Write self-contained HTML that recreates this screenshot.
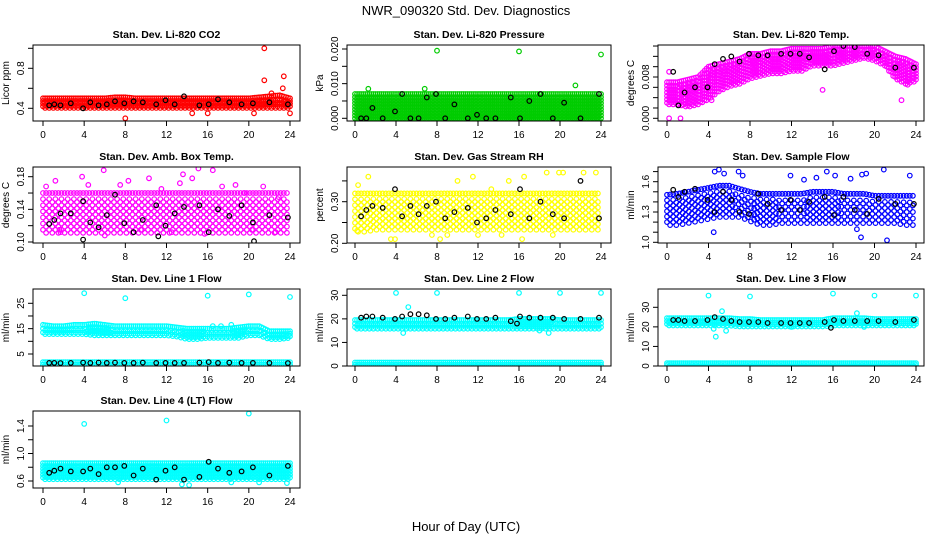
<!DOCTYPE html>
<html><head><meta charset="utf-8">
<style>
html,body{margin:0;padding:0;background:#fff;}
svg{display:block;font-family:"Liberation Sans",Arial,sans-serif;}
</style></head>
<body>
<svg id="chart" width="936" height="540" viewBox="0 0 936 540">
<text x="466" y="15" text-anchor="middle" font-size="13">NWR_090320  Std. Dev. Diagnostics</text>
<text x="466" y="531" text-anchor="middle" font-size="13">Hour of Day (UTC)</text>
</svg>
<script>
// ---- data ----
const xTicks = [0,4,8,12,16,20,24];
const panelTitles = ["Stan. Dev. Li-820 CO2","Stan. Dev. Li-820 Pressure","Stan. Dev. Li-820 Temp.","Stan. Dev. Amb. Box Temp.","Stan. Dev. Gas Stream RH","Stan. Dev. Sample Flow","Stan. Dev. Line 1 Flow","Stan. Dev. Line 2 Flow","Stan. Dev. Line 3 Flow","Stan. Dev. Line 4 (LT) Flow"];
const yTitles = ["Licor ppm","kPa","degrees C","degrees C","percent","ml/min","ml/min","ml/min","ml/min","ml/min"];
const seriesColors = ["#ff0000","#00cc00","#ff00ff","#ff00ff","#ffff00","#0000ff","#00ffff","#00ffff","#00ffff","#00ffff"];
const yTickVals = [[0.4,0.6,0.8,1.0],[0,0.005,0.01,0.015,0.02],[0,0.002,0.004,0.006,0.008,0.01,0.012,0.014],[0.10,0.12,0.14,0.16,0.18],[0.20,0.25,0.30,0.35],[1.0,1.1,1.2,1.3,1.4,1.5,1.6,1.7],[5,10,15,20,25],[0,10,20,30],[0,10,20,30],[0.6,0.8,1.0,1.2,1.4]];
const yTickLabels = [["0.4","","0.8",""],["0.000","","0.010","","0.020"],["0.000","","","","0.008","","",""],["0.10","","0.14","","0.18"],["0.20","","0.30",""],["1.0","","","1.3","","","1.6",""],["5","","15","","25"],["0","10","20","30"],["0","10","20","30"],["0.6","","1.0","","1.4"]];
const yRanges = [[0.4,0.8],[0,0.02],[0,0.008],[0.10,0.18],[0.20,0.30],[1.0,1.6],[5,25],[0,30],[0,30],[0.6,1.4]];
const blackHours = [0.6,1.1,1.7,2.7,3.9,4.6,5.4,6.2,7.0,7.9,8.8,9.7,11.0,11.9,12.8,13.7,15.2,16.1,17.0,18.1,19.3,20.4,22.0,23.8];
const bandLo = [
 [0.42,0.42,0.42,0.42,0.42,0.42,0.42,0.42,0.42,0.42,0.42,0.42,0.42,0.42,0.42,0.42,0.42,0.42,0.42,0.42,0.42,0.42,0.42,0.42,0.42],
 [0,0,0,0,0,0,0,0,0,0,0,0,0,0,0,0,0,0,0,0,0,0,0,0,0],
 [0.003,0.003,0.0025,0.003,0.004,0.0055,0.0065,0.007,0.008,0.0085,0.009,0.009,0.0095,0.0095,0.0105,0.0105,0.0105,0.011,0.0115,0.012,0.0115,0.0105,0.008,0.007,0.0075],
 [0.115,0.115,0.115,0.115,0.115,0.115,0.115,0.115,0.115,0.115,0.115,0.115,0.115,0.115,0.115,0.115,0.115,0.115,0.115,0.115,0.115,0.115,0.115,0.115,0.115],
 [0.235,0.235,0.24,0.24,0.24,0.24,0.24,0.24,0.24,0.24,0.24,0.24,0.24,0.24,0.24,0.24,0.24,0.24,0.24,0.24,0.24,0.24,0.24,0.24,0.24],
 [1.2,1.2,1.22,1.24,1.26,1.28,1.28,1.28,1.24,1.2,1.2,1.22,1.22,1.22,1.22,1.22,1.22,1.22,1.22,1.22,1.22,1.22,1.22,1.2,1.2],
 [13.5,13.5,13.5,13.5,13.5,13,13,13,13,13,13,13,13,12.5,11.5,11.5,12,12,12,12,13,13,11.5,11.5,12],
 [16.5,16.5,16.5,16.5,16.5,16.5,16.5,16.5,16.5,16.5,16.5,16.5,16.5,16.5,16.5,16.5,16.5,16.5,16.5,16.5,16.5,16.5,16.5,16.5,16.5],
 [21.5,21.5,21.5,21.5,21.5,21.5,21.5,21,21,21,21,21,21,21,21,21,21.5,21.5,21.5,21.5,21.5,21.5,21.5,21.5,21.5],
 [0.65,0.65,0.65,0.65,0.65,0.65,0.65,0.65,0.65,0.65,0.65,0.65,0.65,0.65,0.65,0.65,0.65,0.65,0.65,0.65,0.65,0.65,0.65,0.65,0.65]];
const bandHi = [
 [0.50,0.50,0.50,0.50,0.50,0.50,0.50,0.51,0.51,0.50,0.50,0.50,0.50,0.50,0.50,0.50,0.50,0.50,0.50,0.50,0.50,0.51,0.52,0.53,0.50],
 [0.007,0.007,0.007,0.007,0.007,0.007,0.007,0.007,0.007,0.007,0.007,0.007,0.007,0.007,0.007,0.007,0.007,0.007,0.007,0.007,0.007,0.007,0.007,0.007,0.007],
 [0.007,0.007,0.0075,0.008,0.01,0.0105,0.011,0.0115,0.0125,0.0125,0.013,0.013,0.0135,0.0135,0.0135,0.0135,0.014,0.014,0.014,0.014,0.014,0.013,0.012,0.0115,0.0105],
 [0.16,0.16,0.16,0.16,0.16,0.16,0.16,0.16,0.16,0.16,0.16,0.16,0.16,0.16,0.16,0.16,0.16,0.16,0.16,0.16,0.16,0.16,0.16,0.16,0.16],
 [0.32,0.32,0.32,0.32,0.32,0.32,0.32,0.32,0.32,0.32,0.32,0.32,0.32,0.32,0.32,0.32,0.32,0.32,0.32,0.32,0.32,0.32,0.32,0.32,0.32],
 [1.47,1.48,1.5,1.52,1.54,1.56,1.56,1.53,1.5,1.48,1.48,1.48,1.48,1.48,1.5,1.5,1.5,1.48,1.48,1.48,1.46,1.46,1.46,1.46,1.46],
 [16.5,16,16,16.5,16.5,17,16.5,16,16,16,16,16,16,15.5,15,15,15,15,15,15.5,16,16,14,14,14],
 [19.5,19.5,19.5,19.5,19.5,19.5,19.5,19.5,19.5,19.5,19.5,19.5,19.5,19.5,19.5,19.5,20,20,20,20,19.5,19.5,19.5,19.5,19.5],
 [24.5,24.5,24.5,24.5,24.5,24.5,24.5,24,24,23.5,23.5,23.5,23.5,23.5,23.5,23.5,24.5,24.5,24.5,24.5,24,24,24,24,24],
 [0.86,0.86,0.86,0.86,0.86,0.86,0.86,0.86,0.86,0.86,0.86,0.86,0.86,0.86,0.86,0.86,0.86,0.86,0.86,0.86,0.86,0.86,0.86,0.86,0.86]];
const lowBandLo = [null,null,null,null,null,null,0.8,0.5,0.5,null];
const lowBandHi = [null,null,null,null,null,null,1.8,1.5,1.5,null];
const blackVals = [
 [0.43,0.44,0.43,0.45,0.40,0.46,0.43,0.44,0.47,0.45,0.47,0.46,0.44,0.48,0.44,0.52,0.43,0.44,0.49,0.46,0.44,0.45,0.46,0.44],
 [0,0,0.003,0,0.002,0.007,0,0,0.006,0.007,0,0.004,0,0.001,0,0,0.006,0,0.005,0.007,0,0.0045,0,0.007],
 [0.009,0.0025,0.005,0.006,0.006,0.0105,0.0115,0.012,0.011,0.0125,0.0122,0.0122,0.0125,0.0125,0.0125,0.0118,0.0095,0.013,0.014,0.0138,0.0125,0.0122,0.0098,0.0098],
 [0.122,0.127,0.135,0.135,0.15,0.124,0.118,0.133,0.158,0.123,0.112,0.127,0.145,0.12,0.135,0.143,0.145,0.112,0.14,0.132,0.145,0.124,0.133,0.13],
 [0.265,0.28,0.29,0.285,0.33,0.265,0.29,0.27,0.29,0.3,0.26,0.275,0.285,0.25,0.26,0.28,0.27,0.33,0.26,0.3,0.27,0.26,0.35,0.26],
 [1.52,1.45,1.5,1.53,1.42,1.3,1.5,1.42,1.3,1.28,1.48,1.38,1.32,1.42,1.32,1.4,1.45,1.27,1.45,1.32,1.28,1.43,1.38,1.38],
 [1.5,1.5,1.4,1.5,1.6,1.5,1.6,1.5,1.6,1.5,1.5,1.6,1.5,1.5,1.5,1.5,1.6,1.8,1.5,1.6,1.5,1.5,1.5,1.4],
 [20.5,21,21,20.5,20,21,22,22,21.5,20,20,20.5,21,20,20,20.5,19,21,20.5,20.5,20.5,20,20,20.5],
 [23.5,23.5,23,23,23.5,25,24,23,22.5,22.5,22.5,22,22,22,22,22,22.5,23.5,23,23,23,23,22.5,23.5],
 [0.72,0.75,0.78,0.74,0.74,0.78,0.7,0.8,0.8,0.82,0.68,0.78,0.62,0.75,0.8,0.62,0.66,0.88,0.78,0.72,0.74,0.8,0.68,0.82]];
const outX = [
 [21.5,21.5,23.4,8,14.5,16,20.5,24,23.3,22.2],
 [8,16,24,1.3,6.8,21.5],
 [0.2,1.3,4.3,15,22.6,23.2,0.2],
 [0.3,1.2,1.6,3.8,4.4,5.9,7.5,8.3,10.3,11.5,13.3,13.6,14.5,15.1,16.5,17.4,18.7,19.6,21.4,22.9,1.7,6.0,9.5,12.5,15.7,20.3,22.6],
 [0.3,1.3,3.9,7.5,10,11.5,13.3,15,16.5,18.7,19.9,20.3,22.3,23.5,0.2,3.5,8.3,9,12,14.3,16.3,19.3],
 [4.6,5,5.5,6.5,6.9,7.3,11.9,13.2,14.4,15.4,16.2,17.7,18.8,19.2,20.9,23.4,4.5,18.7,21.2,18.3],
 [4,8,16,20,24,16.5,17.3,18.3],
 [4,8,16,20,24,5.2,4.7,18,18.9],
 [4,8,16,20,24,4.5,4.7,5.3,5.7,18.3,19,12],
 [4,12,20,13.5,14.2,7.3,18.3,21,23.7]];
const outY = [
 [1.0,0.68,0.72,0.30,0.35,0.35,0.35,0.35,0.60,0.55],
 [0.0195,0.0193,0.0184,0.0085,0.0085,0.0095],
 [0,0,0.0035,0.0055,0.0035,0.0065,0.009],
 [0.168,0.175,0.115,0.18,0.17,0.188,0.17,0.175,0.178,0.165,0.172,0.183,0.178,0.19,0.188,0.168,0.17,0.16,0.168,0.155,0.112,0.108,0.115,0.112,0.11,0.115,0.112],
 [0.34,0.36,0.21,0.22,0.35,0.36,0.33,0.35,0.36,0.37,0.37,0.37,0.37,0.37,0.23,0.21,0.21,0.22,0.22,0.22,0.21,0.22],
 [1.7,1.72,1.68,1.78,1.7,1.66,1.66,1.62,1.64,1.7,1.66,1.63,1.67,1.68,1.72,1.66,1.1,1.05,1.02,1.13],
 [29,27,28,28.5,27.5,16,16,16.5],
 [31,31,31,31,31,25,14,15,14],
 [36,35.5,37,36,36,19,15,28,18,27,20,20],
 [1.43,1.48,1.58,0.55,0.54,0.58,0.58,0.58,0.57]];
const blackExtraX = [[],[],[],[3.9,11.2,20.5],[],[],[],[15.8],[15.8],[]];
const blackExtraY = [[],[],[],[0.103,0.107,0.101],[],[],[],[18],[19.5],[]];

// ---- layout ----
const cols = [{l:33,r:300,x0:43,x24:290},{l:347,r:611,x0:355,x24:601},{l:658,r:924,x0:667,x24:916}];
const rows = [{t:45,b:121},{t:167,b:243},{t:289,b:366},{t:411,b:488}];
const yPix = [[108.3,68.3],[118.3,49],[118.3,77],[242,176.7],[243.3,201.7],[242.3,181.7],[354,303.3],[366,295.3],[366,307.3],[481,426]];

const svg = document.getElementById('chart');
const NS = 'http://www.w3.org/2000/svg';
function mk(tag, attrs, parent){ const e=document.createElementNS(NS,tag); for(const k in attrs) e.setAttribute(k,attrs[k]); (parent||svg).appendChild(e); return e; }

for(let p=0;p<10;p++){
  const c = cols[p%3], r = rows[Math.floor(p/3)];
  const g = mk('g',{});
  
  
  const xs = h => c.x0 + (c.x24-c.x0)*h/24;
  const [v0,v1] = yRanges[p], [py0,py1] = yPix[p];
  const ys = v => py0 + (py1-py0)*(v-v0)/(v1-v0);
  const clip = 'clip'+p;
  const cp = mk('clipPath',{id:clip},g); mk('rect',{x:c.l,y:r.t,width:c.r-c.l,height:r.b-r.t},cp);
  const pts = mk('g',{'clip-path':'url(#'+clip+')'},g);
  
  
  const col = seriesColors[p];
  function dot(x,y,color,dy){ return mk('circle',{cx:xs(x).toFixed(1),cy:(ys(y)+(dy||0)).toFixed(1),r:2.3,fill:'none',stroke:color,'stroke-width':1.2},pts); }
  const sparse = (p===3||p===4||p===5);
  function band(lo,hi,step,xstep){
    let col_i=0;
    for(let h=0;h<=24;h+=xstep,col_i++){
      const i=Math.min(23,Math.floor(h)), f=h-i;
      const a=lo[i]+(lo[i+1]-lo[i])*f, b=hi[i]+(hi[i+1]-hi[i])*f;
      const pa=ys(a), pb=ys(b), n=Math.max(1,Math.round(Math.abs(pa-pb)/step));
      const off = (col_i%2)? step/2 : 0;
      for(let k=0;k<=n;k++){
        const v=a+(b-a)*k/n;
        const e=dot(h,v,col, (k<n)?off:0);
        
        
      }
    }
  }
  band(bandLo[p],bandHi[p], sparse?6:3.2, sparse?0.3:0.2);
  if(lowBandLo[p]!==null){
    const lo=new Array(25).fill(lowBandLo[p]), hi=new Array(25).fill(lowBandHi[p]);
    band(lo,hi,3,0.2);
  }
  outX[p].forEach((x,i)=>{ const e=dot(x,outY[p][i],col);
    
     });
  blackVals[p].forEach((v,i)=>{ const e=dot(blackHours[i],v,'#000');
    
     });
  blackExtraX[p].forEach((x,i)=>{ const e=dot(x,blackExtraY[p][i],'#000');
    
     });
  const box = mk('rect',{x:c.l,y:r.t,width:c.r-c.l,height:r.b-r.t,fill:'none',stroke:'#000','stroke-width':1},g);
  
  
  const t = mk('text',{x:(c.l+c.r)/2,y:r.t-7,'text-anchor':'middle','font-size':10.5,'font-weight':'bold'},g);
  t.textContent = panelTitles[p];
  
  
  xTicks.forEach(v=>{
    const x=xs(v);
    mk('line',{x1:x,x2:x,y1:r.b,y2:r.b+5,stroke:'#000'},g);
    const lt=mk('text',{x:x,y:r.b+17,'text-anchor':'middle','font-size':10},g);
    lt.textContent=v;
    
    
  });
  yTickVals[p].forEach((v,i)=>{
    const y=ys(v);
    if(y<r.t-1||y>r.b+1) return;
    mk('line',{x1:c.l-5,x2:c.l,y1:y,y2:y,stroke:'#000'},g);
    if(yTickLabels[p][i]){
      const lt=mk('text',{x:0,y:0,'text-anchor':'middle','font-size':10,transform:'translate('+(c.l-9)+','+y+') rotate(-90)'},g);
      lt.textContent=yTickLabels[p][i];
      
      
    }
  });
  const yt=mk('text',{x:0,y:0,'text-anchor':'middle','font-size':10,transform:'translate('+(c.l-24)+','+((r.t+r.b)/2)+') rotate(-90)'},g);
  yt.textContent=yTitles[p];
  
  
}
</script>
</body></html>
